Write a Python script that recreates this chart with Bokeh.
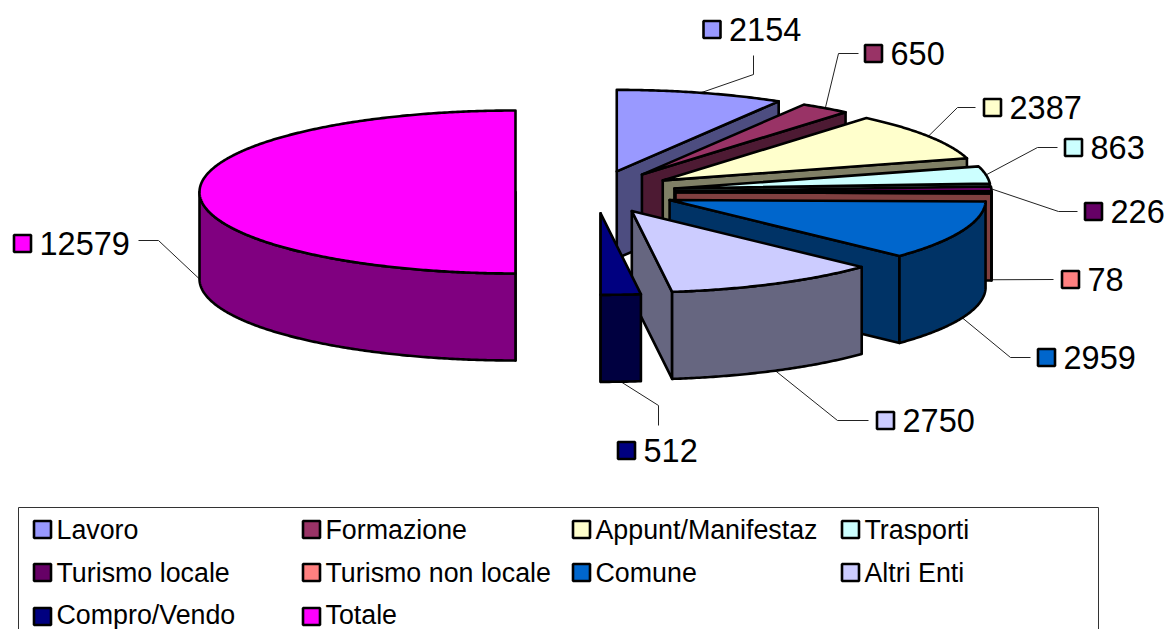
import math
from bokeh.plotting import figure
from bokeh.models import Range1d
from bokeh.core.properties import value
from bokeh.embed import file_html
from bokeh.resources import INLINE

categories = ["Lavoro", "Formazione", "Appunt/Manifestaz", "Trasporti", "Turismo locale",
              "Turismo non locale", "Comune", "Altri Enti", "Compro/Vendo", "Totale"]
values = [2154, 650, 2387, 863, 226, 78, 2959, 2750, 512, 12579]
top_colors = ["#9999FF", "#993366", "#FFFFCC", "#CCFFFF", "#660066",
              "#FF8080", "#0066CC", "#CCCCFF", "#000080", "#FF00FF"]
side_colors = ["#4D4D80", "#4D1A33", "#808066", "#668080", "#330033",
               "#804040", "#003366", "#666680", "#000040", "#800080"]

# layout constants (pixels of the 1169x629 picture)
W, H = 1169, 629
CX, CY = 595.0, 191.5
RX, RY = 316.0, 81.5
DEPTH = 87.0
EX, EY = 80.0, 21.4
OUT_W = 2.6
MARK = 17
LABEL_FS = "32.5px"
LEGEND_FS = "26.8px"
FONT = value("Liberation Sans")
LEADER_MID = [[(753, 74), (753, 55)], [(838, 53), (858, 53)], [(957, 107), (975, 107)],
              [(1037, 147), (1057, 147)], [(1058, 211), (1077, 211)], [(1053, 279), (1053, 279)],
              [(1010, 357), (1030, 357)], [(837, 420), (868, 420)], [(658, 405), (658, 425)],
              [(158, 240), (138, 240)]]
LABEL_MARK = [(711.5, 29), (873, 53), (992, 107), (1073, 147), (1093, 211),
              (1070, 279), (1046, 357), (885, 420), (626, 450), (22, 243)]
LEG_X = [42, 311, 581, 850]
LEG_Y = [529, 572, 616]
LEG_TEXT_Y = [529, 572, 614]

p = figure(width=W, height=H, output_backend="svg", toolbar_location=None,
           x_range=Range1d(0, W), y_range=Range1d(H, 0),
           min_border=0, outline_line_color=None, x_axis_location=None, y_axis_location=None)
p.grid.visible = False
p.background_fill_color = "white"
p.border_fill_color = "white"

total = sum(values)


def pt(ax, ay, deg, dy=0.0):
    a = math.radians(deg)
    return ax + RX * math.sin(a), ay - RY * math.cos(a) + dy


def arc(ax, ay, a0, a1, dy=0.0):
    n = max(2, int(abs(a1 - a0) * 2))
    return [pt(ax, ay, a0 + (a1 - a0) * i / n, dy) for i in range(n + 1)]


def poly(points, fill):
    p.patch([q[0] for q in points], [q[1] for q in points], fill_color=fill,
            line_color="black", line_width=OUT_W, line_join="round")


slices = []
acc = 0.0
for i, v in enumerate(values):
    a0 = acc / total * 360
    acc += v
    a1 = acc / total * 360
    mid = (a0 + a1) / 2
    m = math.radians(mid)
    ax = CX + EX * math.sin(m)
    ay = CY - EY * math.cos(m)
    slices.append((i, a0, a1, mid, ax, ay))


def draw(s):
    i, a0, a1, mid, ax, ay = s
    if a1 <= 180:
        e = pt(ax, ay, a1)
        poly([(ax, ay), e, (e[0], e[1] + DEPTH), (ax, ay + DEPTH)], side_colors[i])
    if a0 >= 180:
        e = pt(ax, ay, a0)
        poly([(ax, ay), e, (e[0], e[1] + DEPTH), (ax, ay + DEPTH)], side_colors[i])
    lo, hi = max(a0, 90), min(a1, 270)
    if lo < hi:
        poly(arc(ax, ay, lo, hi) + arc(ax, ay, hi, lo, DEPTH), side_colors[i])
    poly([(ax, ay)] + arc(ax, ay, a0, a1), top_colors[i])


for s in slices:
    i, a0, a1, mid, ax, ay = s
    dy = DEPTH if math.cos(math.radians(mid)) <= 0 else 0.0
    st = pt(ax, ay, mid, dy)
    line = [st] + LEADER_MID[i]
    p.line([q[0] for q in line], [q[1] for q in line], line_color="#222222", line_width=1)

for s in [slices[9]] + slices[:9]:
    draw(s)

for i, v in enumerate(values):
    mx, my = LABEL_MARK[i]
    p.rect([mx], [my], width=MARK, height=MARK, fill_color=top_colors[i],
           line_color="black", line_width=2.6)
    p.text([mx + 17], [my], text=[str(v)], text_font=FONT, text_font_size=LABEL_FS,
           text_baseline="middle", text_align="left", text_color="black")

FR = (18, 507, 1098, H + 20)
p.line([FR[0], FR[0], FR[2], FR[2]], [FR[3], FR[1], FR[1], FR[3]], line_color="#333333", line_width=1)
for i, c in enumerate(categories):
    lx = LEG_X[i % 4]
    p.rect([lx], [LEG_Y[i // 4]], width=MARK, height=MARK, fill_color=top_colors[i],
           line_color="black", line_width=2.6)
    p.text([lx + 14], [LEG_TEXT_Y[i // 4]], text=[c], text_font=FONT, text_font_size=LEGEND_FS,
           text_baseline="middle", text_align="left", text_color="black")

open("out.html", "w").write(file_html(p, INLINE))
